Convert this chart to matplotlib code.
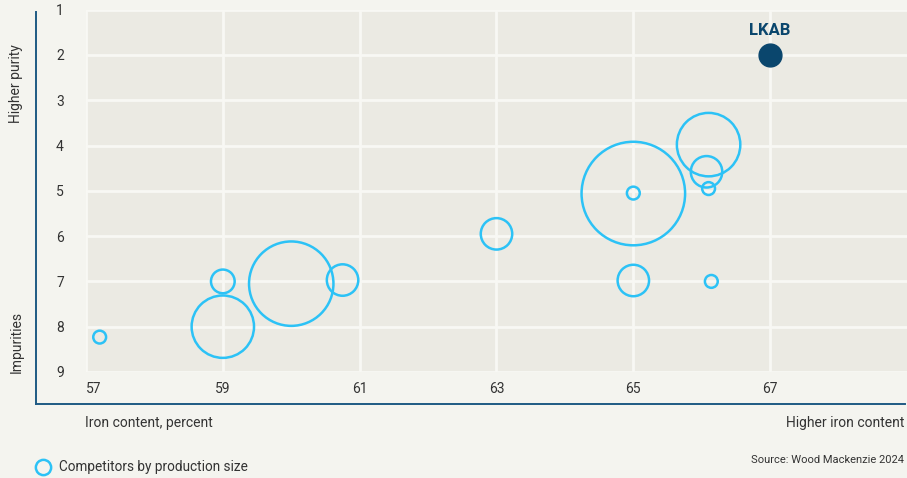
import matplotlib

matplotlib.use("Agg")
import matplotlib.pyplot as plt
from matplotlib.lines import Line2D

plt.rcParams["font.family"] = ["Roboto", "DejaVu Sans"]

# competitors: iron content (%), impurity rank, production size (relative)
iron = [57.2, 59.0, 59.0, 60.0, 60.75, 63.0, 65.0, 65.0, 65.0, 66.1, 66.07, 66.1, 66.14]
impurity = [8.23, 7.0, 8.0, 7.05, 6.97, 5.95, 6.98, 5.06, 5.05, 3.98, 4.58, 4.95, 7.0]
production = [5, 17, 118, 216, 30, 30, 30, 325, 5, 122, 30, 5, 5]

lkab_iron = [67.0]
lkab_impurity = [2.0]

x_ticks = [57, 59, 61, 63, 65, 67]
y_ticks = [1, 2, 3, 4, 5, 6, 7, 8, 9]

BG = "#f4f4ef"
PANEL = "#ebeae3"
GRID = "#f8f8f4"
CYAN = "#2cc2f6"
NAVY = "#0a466d"
SPINE = "#1f5a84"
TEXT = "#333333"

fig = plt.figure(figsize=(9.07, 4.78), dpi=100, facecolor=BG)

# outer frame with only left/bottom lines
frame = fig.add_axes([0.0397, 0.1548, 0.958, 0.820])
frame.set_facecolor("none")
frame.set_xticks([])
frame.set_yticks([])
for side in ("top", "right"):
    frame.spines[side].set_visible(False)
for side in ("left", "bottom"):
    frame.spines[side].set_color(SPINE)
    frame.spines[side].set_linewidth(1.4)

ax = fig.add_axes([0.0948, 0.2218, 0.9052, 0.758])
ax.set_facecolor(PANEL)
for spine in ax.spines.values():
    spine.set_visible(False)

ax.scatter(iron, impurity, s=[p * 17.1 for p in production], facecolors="none",
           edgecolors=CYAN, linewidths=1.8, zorder=3)
ax.scatter(lkab_iron, lkab_impurity, s=270, color=NAVY, zorder=4)
ax.annotate("LKAB", (lkab_iron[0], lkab_impurity[0]), xytext=(0, 12), textcoords="offset points",
            ha="center", va="bottom", fontsize=12, fontweight="bold", color=NAVY)

ax.set_xlim(57, 69)
ax.set_ylim(9, 1)
ax.set_xticks(x_ticks)
ax.set_yticks(y_ticks)
ax.grid(True, color=GRID, linewidth=2.0, zorder=0)
ax.set_axisbelow(True)
ax.tick_params(length=0, labelsize=10, colors=TEXT)
ax.tick_params(axis="y", pad=16)
ax.tick_params(axis="x", pad=7)
ax.get_xticklabels()[0].set_horizontalalignment("left")

fig.text(0.018, 1 - 84 / 478, "Higher purity", rotation=90, ha="center", va="center",
         fontsize=10, color=TEXT)
fig.text(0.018, 1 - 342 / 478, "Impurities", rotation=90, ha="center", va="center",
         fontsize=10, color=TEXT)
fig.text(85 / 907, 1 - 423 / 478, "Iron content, percent", ha="left", va="center",
         fontsize=10, color=TEXT)
fig.text(904 / 907, 1 - 423 / 478, "Higher iron content", ha="right", va="center",
         fontsize=10, color=TEXT)
fig.text(904 / 907, 1 - 460 / 478, "Source: Wood Mackenzie 2024", ha="right", va="center",
         fontsize=8, color=TEXT)

# legend entry
fig.add_artist(Line2D([43 / 907], [1 - 467 / 478], transform=fig.transFigure, marker="o",
                      linestyle="none", markersize=11, markerfacecolor="none",
                      markeredgecolor=CYAN, markeredgewidth=1.8))
fig.text(59 / 907, 1 - 467 / 478, "Competitors by production size", ha="left", va="center",
         fontsize=9.8, color=TEXT)

fig.savefig("out.png", dpi=100, facecolor=BG)
